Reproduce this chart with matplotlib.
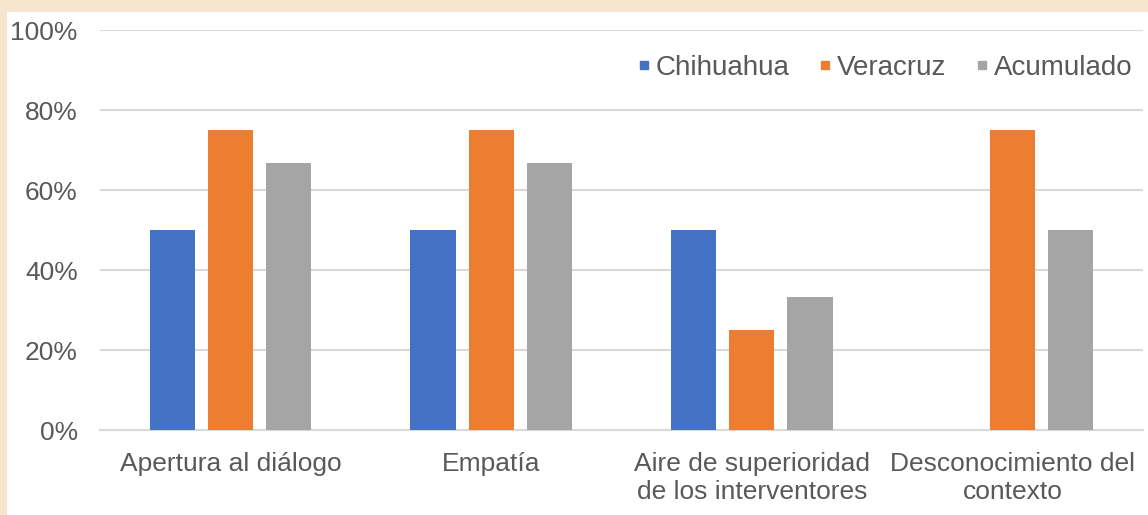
import matplotlib
matplotlib.use("Agg")
import matplotlib.pyplot as plt
from matplotlib.lines import Line2D
from matplotlib.patches import Rectangle
from matplotlib.ticker import PercentFormatter

categories = ["Apertura al diálogo", "Empatía",
              "Aire de superioridad\nde los interventores",
              "Desconocimiento del\ncontexto"]
series_names = ["Chihuahua", "Veracruz", "Acumulado"]
chihuahua = [50, 50, 50, 0]
veracruz = [75, 75, 25, 75]
acumulado = [66.7, 66.7, 33.3, 50]
yticks = [0, 20, 40, 60, 80, 100]

colors = ["#4472C4", "#ED7D31", "#A5A5A5"]
text_color = "#595959"
grid_color = "#D9D9D9"
beige = "#F6E6CF"

plt.rcParams["font.family"] = ["Liberation Sans", "DejaVu Sans"]

W, H = 1148, 515
fig = plt.figure(figsize=(W / 100, H / 100), dpi=100)
fig.patch.set_facecolor("white")
# beige frame (top and left strips)
fig.add_artist(Rectangle((0, 1 - 12 / H), 1, 12 / H, transform=fig.transFigure,
                         facecolor=beige, edgecolor="none", zorder=-10))
fig.add_artist(Rectangle((0, 0), 7 / W, 1, transform=fig.transFigure,
                         facecolor=beige, edgecolor="none", zorder=-10))

ax = fig.add_axes([100 / W, 85 / H, 1043 / W, 400 / H])
ax.set_facecolor("none")

x = list(range(len(categories)))
width = 0.173
step = 0.223
for i, (vals, c, name) in enumerate(zip([chihuahua, veracruz, acumulado], colors, series_names)):
    pos = [xi + (i - 1) * step for xi in x]
    ax.bar(pos, vals, width=width, color=c, label=name, zorder=3)

ax.set_xlim(-0.5, 3.5)
ax.set_ylim(0, 100)
ax.set_yticks(yticks)
ax.yaxis.set_major_formatter(PercentFormatter(decimals=0))
ax.set_xticks(x)
ax.set_xticklabels(categories, linespacing=1.2)
ax.tick_params(axis="y", length=0, pad=16, labelsize=19, labelcolor=text_color)
ax.tick_params(axis="x", length=0, pad=16, labelsize=19, labelcolor=text_color)
ax.grid(axis="y", color=grid_color, linewidth=1.5, zorder=0)
for s in ["top", "right", "left"]:
    ax.spines[s].set_visible(False)
ax.spines["bottom"].set_color(grid_color)
ax.spines["bottom"].set_linewidth(1.5)

handles = [Line2D([0], [0], marker="s", linestyle="none", markersize=5.5,
                  markerfacecolor=c, markeredgecolor=c) for c in colors]
leg = ax.legend(handles, series_names, loc="center right", bbox_to_anchor=(0.993, 0.905),
                ncol=3, frameon=False, fontsize=20, handlelength=0.35,
                handletextpad=0.25, columnspacing=1.12, labelcolor=text_color,
                borderaxespad=0, borderpad=0.1)

fig.savefig("out.png", dpi=100, facecolor=fig.get_facecolor())
